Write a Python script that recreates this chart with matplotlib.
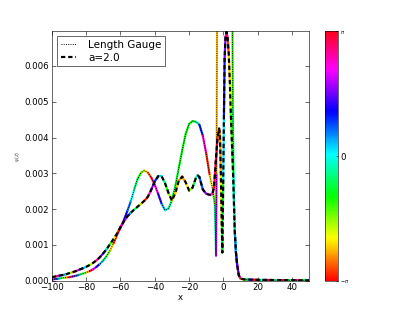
import numpy as np
import matplotlib
matplotlib.use('Agg')
import matplotlib.pyplot as plt
from matplotlib.collections import LineCollection
from matplotlib.ticker import FormatStrFormatter, MultipleLocator

# Length gauge curve: position, |psi| (x1e-3), unwrapped phase (rad)
lg_x = [-100, -98, -96, -94, -92, -90, -88, -86, -84, -82,
        -80, -78, -76, -74, -72, -70, -68, -66, -64, -62,
        -60, -58, -56, -54, -52, -50, -48, -46, -44, -42,
        -40, -38, -36, -34, -32, -30, -28, -26, -24, -22,
        -20, -18, -16, -14, -12, -10, -8, -6, -5, -4.3,
        -4.0, -3.7, -3, -1, 1, 3, 4.5, 5.3, 5.5, 5.9,
        6.3, 6.7, 7.3, 8, 9, 10, 12, 14, 16, 18,
        20, 22, 24, 26, 28, 30, 32, 34, 36, 38,
        40, 42, 44, 46, 48, 50]
lg_y = [0.03, 0.05, 0.06, 0.08, 0.09, 0.10, 0.12, 0.14, 0.17, 0.20,
        0.23, 0.27, 0.32, 0.39, 0.47, 0.57, 0.70, 0.85, 1.05, 1.28,
        1.48, 1.70, 1.95, 2.22, 2.55, 2.85, 3.02, 3.08, 3.02, 2.88,
        2.68, 2.42, 2.15, 1.97, 2.02, 2.25, 2.65, 3.15, 3.65, 4.10,
        4.38, 4.46, 4.44, 4.36, 4.05, 3.55, 2.95, 2.50, 2.10, 0.70,
        3.0, 7.2, 11.0, 16.0, 16.5, 12.5, 8.5, 7.0, 4.8, 3.0,
        2.0, 1.3, 0.8, 0.45, 0.15, 0.06, 0.035, 0.03, 0.028, 0.026,
        0.024, 0.022, 0.021, 0.02, 0.019, 0.018, 0.017, 0.016, 0.015, 0.014,
        0.013, 0.012, 0.012, 0.011, 0.011, 0.010]
lg_phase = [27.6, 26.5, 25.4, 24.3, 23.2, 22.1, 21.0, 20.0, 19.0, 18.0,
            17.0, 16.0, 15.1, 14.2, 13.3, 12.4, 11.6, 10.8, 10.0, 9.2,
            8.4, 7.8, 7.2, 6.6, 6.0, 5.5, 5.0, 4.4, 3.8, 3.2,
            2.6, 1.8, 0.8, 0.0, -0.3, -0.6, -0.8, -0.9, -1.0, -1.0,
            -1.0, -1.0, -0.7, 0.2, 1.8, 3.0, 3.6, 4.6, 5.4, 6.6,
            10.0, 10.5, 11.0, 12.0, 13.0, 14.0, 15.0, 17.5, 17.9, 18.5,
            19.0, 19.5, 20.0, 20.7, 21.5, 22.3, 23.8, 25.3, 26.8, 28.3,
            29.8, 31.3, 32.8, 34.3, 35.8, 37.3, 38.8, 40.3, 41.8, 43.3,
            44.8, 46.3, 47.8, 49.3, 50.8, 52.3]

# a=2.0 curve
a2_x = [-100, -98, -96, -94, -92, -90, -88, -86, -84, -82,
        -80, -78, -76, -74, -72, -70, -68, -66, -64, -62,
        -60, -58, -56, -54, -52, -50, -48, -46, -44, -42,
        -40, -38, -36, -34, -32, -30, -28, -26, -24, -22,
        -20, -18, -16, -15, -14, -12, -10, -8, -6.5, -5.5,
        -4.5, -3.5, -2.5, -2, -1.5, -1, -0.6, -0.1, 0.3, 0.7,
        1.2, 1.8, 2.4, 3.1, 3.7, 4.3, 5.0, 5.7, 6.6, 7.3,
        8, 9, 10, 12, 14, 16, 18, 20, 22, 24,
        26, 28, 30, 32, 34, 36, 38, 40, 42, 44,
        46, 48, 50]
a2_y = [0.10, 0.12, 0.14, 0.16, 0.18, 0.21, 0.24, 0.27, 0.31, 0.35,
        0.39, 0.44, 0.50, 0.57, 0.66, 0.77, 0.89, 1.03, 1.17, 1.32,
        1.50, 1.66, 1.80, 1.90, 1.99, 2.07, 2.15, 2.24, 2.35, 2.55,
        2.78, 2.92, 2.92, 2.72, 2.45, 2.24, 2.45, 2.80, 2.91, 2.75,
        2.52, 2.60, 2.88, 2.94, 2.90, 2.55, 2.43, 2.40, 2.42, 2.60,
        3.30, 3.95, 4.25, 4.10, 3.00, 1.60, 0.79, 2.80, 4.60, 6.20,
        6.80, 6.95, 6.80, 6.35, 5.60, 4.70, 3.80, 2.90, 1.40, 0.80,
        0.45, 0.15, 0.06, 0.04, 0.035, 0.032, 0.03, 0.028, 0.026, 0.025,
        0.024, 0.023, 0.022, 0.021, 0.02, 0.019, 0.018, 0.017, 0.016, 0.015,
        0.014, 0.013, 0.012]
a2_phase = [29.6, 28.5, 27.4, 26.3, 25.2, 24.1, 23.0, 21.9, 20.8, 19.7,
            18.6, 17.6, 16.6, 15.6, 14.6, 13.6, 12.7, 11.8, 10.9, 10.0,
            9.2, 8.4, 7.6, 6.8, 6.0, 5.2, 4.4, 3.6, 2.8, 2.0,
            1.3, 0.6, 0.0, -0.8, -1.4, -1.8, -2.2, -2.5, -2.6, -2.4,
            -2.0, -1.2, -0.4, 0.0, 0.4, 1.2, 1.8, 2.1, 2.4, 2.7,
            3.0, 3.2, 3.4, 3.6, 3.9, 4.3, 5.0, 5.8, 7.0, 7.6,
            8.2, 8.8, 9.4, 10.0, 10.5, 11.0, 11.5, 12.0, 12.6, 13.2,
            13.8, 14.6, 15.4, 16.9, 18.4, 19.9, 21.4, 22.9, 24.4, 25.9,
            27.4, 28.9, 30.4, 31.9, 33.4, 34.9, 36.4, 37.9, 39.4, 40.9,
            42.4, 43.9, 45.4]

y_scale = 1e-3
cmap = plt.get_cmap('hsv')
norm = plt.Normalize(-np.pi, np.pi)


def phase_line(ax, x, y, ph):
    x = np.asarray(x, dtype=float)
    y = np.asarray(y, dtype=float) * y_scale
    ph = np.asarray(ph, dtype=float)
    pts = np.column_stack([x, y]).reshape(-1, 1, 2)
    segs = np.concatenate([pts[:-1], pts[1:]], axis=1)
    seg_ph = 0.5 * (ph[:-1] + ph[1:])
    seg_ph = np.mod(seg_ph + np.pi, 2 * np.pi) - np.pi
    lc = LineCollection(segs, cmap=cmap, norm=norm, linewidths=3,
                        capstyle='round', joinstyle='round')
    lc.set_array(seg_ph)
    ax.add_collection(lc)
    return lc


plt.rcParams['font.size'] = 12
fig = plt.figure(figsize=(415 / 52, 312 / 52), dpi=52)
ax = fig.add_axes([0.125, 0.1, 0.62, 0.8])
cax = fig.add_axes([0.784, 0.1, 0.030, 0.8])

phase_line(ax, lg_x, lg_y, lg_phase)
phase_line(ax, a2_x, a2_y, a2_phase)
ax.plot(lg_x, np.array(lg_y) * y_scale, color='k', lw=1.3,
        ls=(0, (1, 1.4)), label='Length Gauge')
ax.plot(a2_x, np.array(a2_y) * y_scale, color='k', lw=3,
        ls=(0, (2, 1.3)), label='a=2.0')

ax.set_xlim(-100, 50)
ax.set_ylim(0, 0.00697)
ax.xaxis.set_major_locator(MultipleLocator(20))
ax.yaxis.set_major_locator(MultipleLocator(0.001))
ax.yaxis.set_major_formatter(FormatStrFormatter('%.3f'))
ax.tick_params(direction='in', top=True, right=True, length=5, width=0.8)
ax.set_xlabel('x', labelpad=1)
ax.set_ylabel(r'$\psi(z)$', fontsize=7, color='0.35')

leg = ax.legend(loc='upper left', fancybox=False, framealpha=1,
                edgecolor='k', fontsize=14.4, handlelength=1.45,
                handletextpad=1.2, borderpad=0.35, labelspacing=0.25)
leg.get_frame().set_linewidth(0.8)

sm = plt.cm.ScalarMappable(cmap=cmap, norm=norm)
cb = fig.colorbar(sm, cax=cax, ticks=[-np.pi, 0, np.pi])
cb.ax.set_yticklabels([r'$-\pi$', '0', r'$\pi$'])
labs = cb.ax.get_yticklabels()
labs[0].set_fontsize(7)
labs[2].set_fontsize(7)
cb.ax.tick_params(length=3, direction='in')
cb.outline.set_linewidth(0.8)

fig.savefig('out.png', dpi=52)
